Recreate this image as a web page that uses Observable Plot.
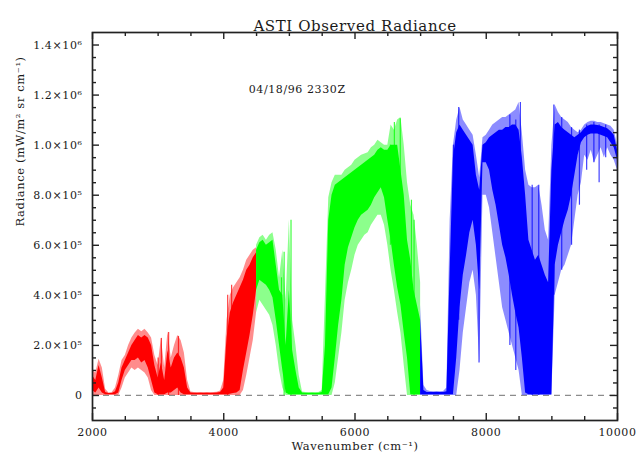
<!DOCTYPE html>
<html><head><meta charset="utf-8">
<script src="https://cdn.jsdelivr.net/npm/d3@7"></script>
<script src="https://cdn.jsdelivr.net/npm/@observablehq/plot@0.6"></script>
<style>
body{margin:0;background:#fff;}
#chart{width:639px;height:457px;overflow:hidden;}
</style></head><body><div id="chart"></div>
<script>
// ---- text ----
const titleText = "ASTI Observed Radiance";
const stampText = "04/18/96 2330Z";
const xLabel = "Wavenumber (cm\u207B\u00B9)";
const yLabel = "Radiance (mW/m\u00B2 sr cm\u207B\u00B9)";

// ---- ticks ----
const xTickValues = [2000, 4000, 6000, 8000, 10000];
const xTickLabels = ["2000", "4000", "6000", "8000", "10000"];
const xMinorTicks = [2500, 3000, 3500, 4500, 5000, 5500, 6500, 7000, 7500, 8500, 9000, 9500];
// radiance in units of 10^3 mW/(m^2 sr cm^-1)
const yTickValues = [0, 200, 400, 600, 800, 1000, 1200, 1400];
const yTickLabels = ["0", "2.0\u00D710\u2075", "4.0\u00D710\u2075", "6.0\u00D710\u2075", "8.0\u00D710\u2075", "1.0\u00D710\u2076", "1.2\u00D710\u2076", "1.4\u00D710\u2076"];
const yMinorTicks = [-50, 50, 100, 150, 250, 300, 350, 450, 500, 550, 650, 700, 750, 850, 900, 950, 1050, 1100, 1150, 1250, 1300, 1350];

// ---- spectrum envelopes, rows: [wavenumber, sparse max, dense max, dense min, sparse min] ----
const redSpectrum = [
[2000,100,80,20,0],[2050,90,60,10,0],[2100,145,120,30,0],[2150,110,70,10,0],[2200,25,12,3,0],
[2250,10,8,3,0],[2300,12,8,3,0],[2350,30,15,3,0],[2400,80,50,10,0],[2450,140,110,60,30],
[2500,160,140,100,70],[2550,200,170,120,90],[2600,230,200,140,110],[2650,250,220,140,100],[2700,265,240,150,110],
[2750,255,230,130,100],[2800,265,240,140,90],[2850,250,230,110,70],[2900,230,200,60,20],[2950,160,120,10,0],
[3000,120,70,3,0],[3050,230,130,3,0],[3100,110,60,3,0],[3150,255,180,10,0],[3200,150,110,10,0],
[3250,200,150,20,0],[3300,240,170,30,0],[3350,220,150,10,0],[3400,170,110,3,0],[3450,60,30,3,0],
[3500,14,10,3,0],[3550,12,9,3,0],[3600,11,9,3,0],[3650,12,9,3,0],[3700,11,9,3,0],
[3750,12,9,3,0],[3800,11,9,3,0],[3850,12,9,3,0],[3900,13,10,3,0],[3950,18,12,3,0],
[4000,60,30,3,0],[4050,300,230,3,0],[4100,400,330,5,0],[4150,430,370,8,0],[4200,450,400,10,0],
[4250,470,430,20,0],[4300,500,460,100,20],[4350,540,500,170,80],[4400,560,520,240,150],[4450,580,550,320,220],
[4500,590,570,420,330]
];
const greenSpectrum = [
[4500,600,580,420,330],[4550,630,610,460,380],[4600,640,620,450,360],[4650,620,600,440,340],[4700,640,610,420,320],
[4750,650,620,390,280],[4800,580,520,300,200],[4850,470,420,200,100],[4900,580,400,100,30],[4950,380,200,10,0],
[5000,700,420,3,0],[5050,300,180,3,0],[5100,200,100,3,0],[5150,80,30,3,0],[5200,14,10,3,0],
[5250,12,9,3,0],[5300,11,9,3,0],[5350,12,9,3,0],[5400,11,9,3,0],[5450,12,9,3,0],
[5500,20,12,3,0],[5550,400,200,3,0],[5600,790,700,3,0],[5650,850,800,30,0],[5700,880,840,150,50],
[5750,880,850,280,150],[5800,880,860,380,250],[5850,900,870,520,380],[5900,910,880,590,450],[5950,920,890,630,500],
[6000,940,900,670,560],[6050,950,910,700,600],[6100,960,920,720,620],[6150,965,930,730,640],[6200,970,940,740,650],
[6250,990,950,760,680],[6300,1000,960,790,700],[6350,1020,980,810,720],[6400,1010,990,830,720],[6450,1000,980,790,680],
[6500,1000,980,700,600],[6550,1080,1000,620,500],[6600,1060,1000,520,420],[6650,1100,1000,430,330],[6700,1110,900,360,250],
[6750,1000,800,250,120],[6800,850,620,150,0],[6850,760,540,3,0],[6900,720,420,3,0],[6950,600,360,3,0],
[7000,450,300,3,0]
];
const blueSpectrum = [
[7000,360,300,3,0],[7050,40,20,3,0],[7100,20,12,3,0],[7150,16,12,3,0],[7200,15,12,3,0],
[7250,16,12,3,0],[7300,15,12,3,0],[7350,16,12,3,0],[7400,30,15,3,0],[7450,700,500,3,0],
[7500,1000,950,3,0],[7550,1100,1050,150,0],[7600,1150,1080,350,100],[7650,1100,1060,480,250],[7700,1080,1040,560,350],
[7750,1060,1020,650,450],[7800,1040,1000,700,500],[7850,960,880,600,400],[7900,870,820,420,130],[7950,1030,1000,930,800],
[8000,1040,1010,930,800],[8050,1060,1030,900,750],[8100,1080,1040,820,650],[8150,1090,1050,760,550],[8200,1100,1060,680,450],
[8250,1110,1060,600,350],[8300,1110,1070,550,300],[8350,1120,1070,480,250],[8400,1130,1080,400,200],[8450,1140,1080,330,150],
[8500,1170,1060,270,100],[8550,1050,950,150,0],[8600,900,800,10,0],[8650,840,620,3,0],[8700,830,580,3,0],
[8750,830,540,3,0],[8800,840,560,3,0],[8850,760,520,3,0],[8900,660,480,3,0],[8950,620,450,3,0],
[9000,1000,900,3,0],[9050,1160,1080,520,400],[9100,1130,1090,600,450],[9150,1110,1070,650,500],[9200,1100,1060,700,520],
[9250,1090,1050,740,560],[9300,1070,1040,800,600],[9350,1060,1030,880,700],[9400,1050,1040,960,800],[9450,1060,1050,1010,850],
[9500,1080,1065,1030,960],[9550,1090,1075,1040,940],[9600,1095,1080,1045,980],[9650,1095,1080,1045,930],[9700,1090,1078,1045,960],
[9750,1090,1075,1040,990],[9800,1085,1070,1035,950],[9850,1080,1065,1030,990],[9900,1075,1055,1010,960],[9950,1060,1040,990,940],
[10000,1000,980,940,900]
];
// isolated narrow spectral lines seen as thin strokes: [wavenumber, min, max]
const redSpikes = [[3000,0,150],[3050,20,228],[3160,0,252],[3310,0,236],[4060,0,400],[4120,80,440]];
const greenSpikes = [[4880,200,470],[4920,0,572],[5025,0,700],[6540,600,1000],[6600,560,1090],[6690,400,1105],[6860,100,780],[6900,0,700]];
const blueSpikes = [[7500,100,1000],[7580,300,1150],[7890,130,800],[8360,200,1120],[8450,100,1100],[8520,250,1170],
  [8700,0,840],[8800,0,840],[9030,400,1160],[9150,500,1110],[9300,600,1070],[9420,760,1060],[9530,900,1080],
  [9640,930,1090],[9720,850,1080],[9820,950,1080]];
const bandColors = ["#ff0000", "#00ff00", "#0000ff"];

// ---- build ----
const W = 639, H = 457, mL = 92, mR = 22, mT = 32, mB = 37;
const frameW = W - mL - mR, frameH = H - mT - mB;
const toRows = arr => arr.map(([w, oh, ch, cl, ol]) => ({w, oh, ch, cl, ol}));
const toSpikes = arr => arr.map(([w, lo, hi]) => ({w, lo, hi}));
const bands = [redSpectrum, greenSpectrum, blueSpectrum].map(toRows);
const spikes = [redSpikes, greenSpikes, blueSpikes].map(toSpikes);

const spectrumMarks = bands.flatMap((rows, i) => [
  Plot.areaY(rows, {x: "w", y1: "ol", y2: "oh", fill: bandColors[i], fillOpacity: 0.45}),
  Plot.areaY(rows, {x: "w", y1: "cl", y2: "ch", fill: bandColors[i]}),
  Plot.ruleX(spikes[i], {x: "w", y1: "lo", y2: "hi", stroke: bandColors[i], strokeWidth: 1.2, strokeOpacity: 0.75})
]);

const tickStroke = {stroke: "#222", strokeWidth: 1.4};
const majorLen = 7, minorLen = 4;
const chart = Plot.plot({
  width: W, height: H,
  marginLeft: mL, marginRight: mR, marginTop: mT, marginBottom: mB,
  x: {domain: [2000, 10000]},
  y: {domain: [-100, 1450]},
  style: {fontFamily: "DejaVu Serif", fontSize: "11px", background: "white", color: "#1a1a1a", letterSpacing: "0.6px"},
  marks: [
    Plot.ruleY([0], {stroke: "#8c8c8c", strokeDasharray: "6,5", strokeWidth: 1.2}),
    ...spectrumMarks,
    Plot.frame({stroke: "#222", strokeWidth: 1.7}),
    // major / minor ticks on all four sides, pointing inward
    Plot.ruleX(xTickValues, {...tickStroke, insetTop: frameH - majorLen}),
    Plot.ruleX(xTickValues, {...tickStroke, insetBottom: frameH - majorLen}),
    Plot.ruleX(xMinorTicks, {...tickStroke, insetTop: frameH - minorLen}),
    Plot.ruleX(xMinorTicks, {...tickStroke, insetBottom: frameH - minorLen}),
    Plot.ruleY(yTickValues, {...tickStroke, insetRight: frameW - majorLen}),
    Plot.ruleY(yTickValues, {...tickStroke, insetLeft: frameW - majorLen}),
    Plot.ruleY(yMinorTicks, {...tickStroke, insetRight: frameW - minorLen}),
    Plot.ruleY(yMinorTicks, {...tickStroke, insetLeft: frameW - minorLen}),
    Plot.axisX({ticks: xTickValues, tickSize: 0, tickPadding: 8, label: null,
      tickFormat: d => xTickLabels[xTickValues.indexOf(d)]}),
    Plot.axisY({ticks: yTickValues, tickSize: 0, tickPadding: 10, label: null,
      tickFormat: d => yTickLabels[yTickValues.indexOf(d)]}),
    Plot.text([titleText], {frameAnchor: "top", dy: -12, fontSize: 15}),
    Plot.text([xLabel], {frameAnchor: "bottom", dy: 29, fontSize: 11.5}),
    Plot.text([yLabel], {frameAnchor: "left", dx: -72, rotate: -90, fontSize: 11.5}),
    Plot.text([stampText], {x: () => 4380, y: () => 1224, textAnchor: "start", fontSize: 11})
  ]
});
document.getElementById("chart").appendChild(chart);
</script></body></html>
